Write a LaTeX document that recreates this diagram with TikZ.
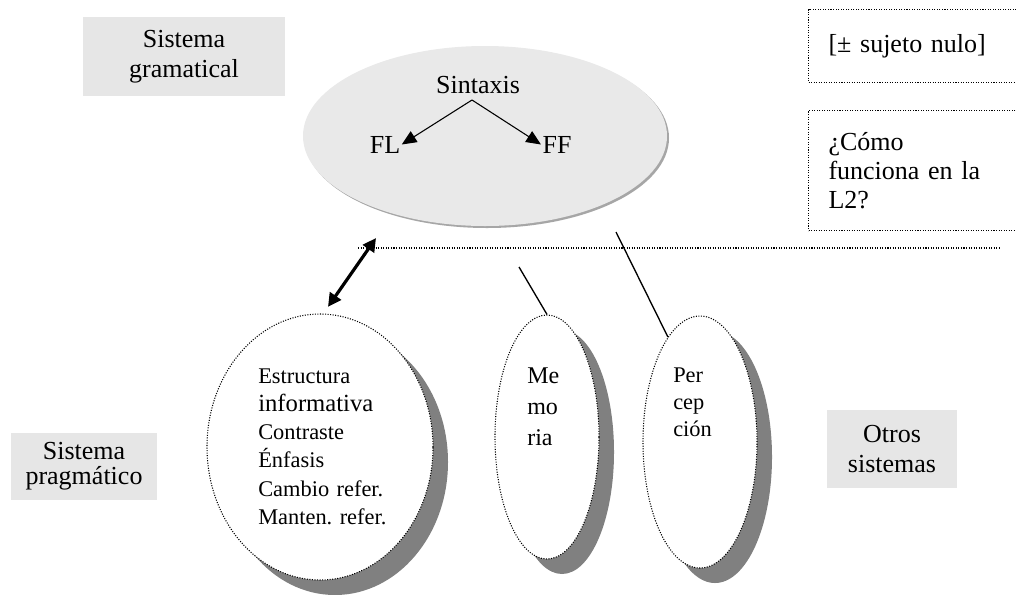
\documentclass[tikz,border=0pt]{standalone}
\usepackage{fontspec}
\setmainfont{Liberation Serif}
\usetikzlibrary{
    positioning,
    shapes.geometric,
    arrows.meta,
    shadows
}
\frenchspacing
\definecolor{GrisCaja}{HTML}{E6E6E6}
\definecolor{GrisElipse}{HTML}{E9E9E9}
\definecolor{GrisBorde}{HTML}{A6A6A6}
\definecolor{GrisSombra}{HTML}{808080}

\tikzset{
    punteado/.style={line width=0.8pt, dash pattern=on 0.8pt off 1.1pt},
    caja/.style={fill=GrisCaja, inner sep=0pt, align=center,
        font=\fontsize{19.5}{22.5}\selectfont},
    recuadro/.style={punteado, draw, inner xsep=15pt, inner ysep=0pt,
        align=left, minimum width=166.5pt, text width=136.5pt,
        font=\fontsize{19.5}{21.75}\selectfont},
    burbuja/.style={ellipse, punteado, draw, fill=white, inner sep=0pt,
        drop shadow={shadow xshift=11.25pt, shadow yshift=-11.25pt,
            fill=GrisSombra, opacity=1}},
    texto/.style={inner sep=0pt, font=\fontsize{19.5}{22.5}\selectfont},
    lista/.style={texto, anchor=base west, align=left},
    flecha/.style={line width=0.8pt, -{Triangle[length=11pt,width=9.5pt]}},
    doble/.style={line width=2.4pt,
        {Triangle[length=10pt,width=10pt]}-{Triangle[length=10pt,width=10pt]}},
    linea/.style={line width=1pt}
}

\begin{document}
\begin{tikzpicture}[x=0.75pt, y=-0.75pt]
    \useasboundingbox (0,0) rectangle (1016,594);
    \clip (0,0) rectangle (1016,594);
    \fill[white] (0,0) rectangle (1016,594);

    % cajas grises
    \node[caja, minimum width=151.5pt, minimum height=59.25pt] (gram) at (184,56.5) {Sistema\\gramatical};
    \node[caja, minimum width=109.5pt, minimum height=50.25pt,
        font=\fontsize{19.5}{18.75}\selectfont] (prag) at (84,466.5) {Sistema\\pragmático};
    \node[caja, minimum width=97.5pt, minimum height=58.5pt] (otros) at (892,449) {Otros\\sistemas};

    % recuadros punteados
    \node[recuadro, minimum height=54.75pt, anchor=north west] (nulo) at (808,9) {[± sujeto nulo]};
    \node[recuadro, minimum height=90pt, anchor=north west] (pregunta) at (808,110) {¿Cómo\\funciona en la\\L2?};

    % sistema gramatical
    \node[ellipse, fill=GrisElipse, inner sep=0pt, minimum width=273pt, minimum height=135pt,
        drop shadow={shadow xshift=1.5pt, shadow yshift=-1.5pt, fill=GrisBorde, opacity=1}]
        (elipseG) at (485,136) {};
    \node[texto, anchor=base] (sint) at (478,93) {Sintaxis};
    \node[texto, anchor=base, inner sep=1pt] (fl) at (385,153) {FL};
    \node[texto, anchor=base, inner sep=1pt] (ff) at (557,153) {FF};
    \coordinate (apex) at (472,100);
    \draw[flecha] (apex) -- (fl.east);
    \draw[flecha] (apex) -- (ff.west);

    % burbujas
    \node[burbuja, minimum width=169.5pt, minimum height=199.5pt] (estr) at (320,447) {};
    \node[burbuja, minimum width=78pt, minimum height=183pt] (mem) at (547,437) {};
    \node[burbuja, minimum width=85.5pt, minimum height=189pt] (perc) at (700,442) {};

    \node[lista, text width=150pt, font=\fontsize{16.8}{21.2}\selectfont] (estrTxt) at (258,383)
        {Estructura\\{\fontsize{18.5}{21.2}\selectfont informativa}\\Contraste\\Énfasis\\Cambio refer.\\Manten. refer.};
    \node[lista, text width=40pt, font=\fontsize{18}{23.25}\selectfont] (memTxt) at (527,383) {Me\\mo\\ria};
    \node[lista, text width=50pt, font=\fontsize{16.8}{20.6}\selectfont] (percTxt) at (673,382) {Per\\cep\\ción};

    % conexiones
    \coordinate (dobleTop) at (376,238);
    \draw[doble] ([xshift=6pt,yshift=5pt]estr.north) -- (dobleTop);
    \coordinate (lineaIzq) at (358,248);
    \coordinate (lineaDer) at (1000,248);
    \draw[punteado] (lineaIzq) -- (lineaDer);
    \coordinate (memTop) at (519,267);
    \draw[linea] (memTop) -- (mem.north);
    \coordinate (percTop) at (616,232);
    \draw[linea] (percTop) -- (perc.107);
\end{tikzpicture}
\end{document}
